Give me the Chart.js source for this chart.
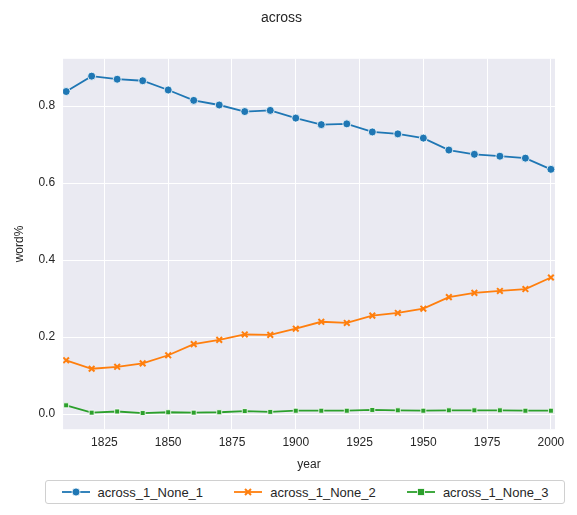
<!DOCTYPE html>
<html>
<head>
<meta charset="utf-8">
<script src="https://cdn.jsdelivr.net/npm/chart.js@4"></script>
<style>
  body { margin:0; background:#fff; font-family:Arial, "Liberation Sans", sans-serif; }
  #wrap { position:relative; width:577px; height:515px; }
  #legend { position:absolute; left:45px; top:480px; width:520px; height:24px; box-sizing:border-box;
            border:1px solid #d0d0d0; border-radius:3px; display:flex; align-items:center;
            justify-content:space-around; font-size:13px; color:#262626; }
  .item { display:flex; align-items:center; gap:8px; }
</style>
</head>
<body>
<div id="wrap">
  <canvas id="c" width="577" height="476"></canvas>
  <div id="legend"></div>
</div>
<script>
const years = [1810,1820,1830,1840,1850,1860,1870,1880,1890,1900,1910,1920,1930,1940,1950,1960,1970,1980,1990,2000];
const none1 = [0.838,0.878,0.870,0.866,0.842,0.815,0.803,0.786,0.789,0.769,0.752,0.754,0.733,0.728,0.717,0.686,0.675,0.670,0.665,0.636];
const none2 = [0.140,0.118,0.123,0.132,0.153,0.182,0.193,0.207,0.206,0.222,0.240,0.237,0.256,0.263,0.274,0.304,0.315,0.320,0.325,0.355];
const none3 = [0.023,0.004,0.007,0.003,0.005,0.004,0.005,0.008,0.006,0.009,0.009,0.009,0.011,0.010,0.009,0.010,0.010,0.010,0.009,0.009];
const xTicks = [1825,1850,1875,1900,1925,1950,1975,2000];
const yTicks = [0,0.2,0.4,0.6,0.8];

const series = [
  { label:'across_1_None_1', data:none1, color:'#1f77b4', style:'circle', r:4 },
  { label:'across_1_None_2', data:none2, color:'#ff7f0e', style:'crossRot', r:4 },
  { label:'across_1_None_3', data:none3, color:'#2ca02c', style:'rect', r:3.5 },
];

const bg = {
  id:'bg',
  beforeDraw(chart) {
    const a = chart.chartArea, ctx = chart.ctx;
    ctx.save(); ctx.fillStyle = '#eaeaf2';
    ctx.fillRect(a.left, a.top, a.right - a.left, a.bottom - a.top); ctx.restore();
  }
};

new Chart(document.getElementById('c'), {
  type:'line',
  data:{ datasets: series.map(s => ({
    label:s.label, data:years.map((y,i) => ({x:y, y:s.data[i]})),
    borderColor:s.color, backgroundColor:s.color, borderWidth:1.8,
    pointStyle:s.style, pointRadius:s.r, pointBorderColor: s.style==='crossRot' ? s.color : '#fff',
    pointBorderWidth: s.style==='crossRot' ? 2 : 0.8, tension:0
  })) },
  options:{
    responsive:false, animation:false,
    layout:{ padding:{ left:8, right:22, top:0, bottom:0 } },
    plugins:{
      legend:{ display:false },
      tooltip:{ enabled:false },
      title:{ display:true, text:'across', color:'#262626', font:{ size:14, weight:'normal' }, padding:{ top:10, bottom:32 } }
    },
    scales:{
      x:{ type:'linear', min:1808.8, max:2001.6,
          afterBuildTicks:ax => { ax.ticks = xTicks.map(v => ({value:v})); },
          grid:{ color:'#fff', lineWidth:1, drawTicks:false }, border:{ display:false },
          ticks:{ color:'#262626', font:{ size:12 }, padding:6, callback:v => String(v) },
          title:{ display:true, text:'year', color:'#262626', font:{ size:12 }, padding:{ top:2 } } },
      y:{ min:-0.039, max:0.923,
          afterBuildTicks:ax => { ax.ticks = yTicks.map(v => ({value:v})); },
          grid:{ color:'#fff', lineWidth:1, drawTicks:false }, border:{ display:false },
          ticks:{ color:'#262626', font:{ size:12 }, padding:8, callback:v => v.toFixed(1) },
          title:{ display:true, text:'word%', color:'#262626', font:{ size:12 }, padding:{ bottom:4 } } }
    }
  },
  plugins:[bg]
});

const leg = document.getElementById('legend');
const icons = {
  circle:c => `<line x1="0" y1="7" x2="28" y2="7" stroke="${c}" stroke-width="1.8"/><circle cx="14" cy="7" r="4" fill="${c}" stroke="#fff" stroke-width="0.8"/>`,
  crossRot:c => `<line x1="0" y1="7" x2="28" y2="7" stroke="${c}" stroke-width="1.8"/><path d="M11 4L17 10M17 4L11 10" stroke="${c}" stroke-width="2"/>`,
  rect:c => `<line x1="0" y1="7" x2="28" y2="7" stroke="${c}" stroke-width="1.8"/><rect x="10.5" y="3.5" width="7" height="7" fill="${c}" stroke="#fff" stroke-width="0.8"/>`
};
series.forEach(s => {
  leg.innerHTML += `<div class="item"><svg width="28" height="14">${icons[s.style](s.color)}</svg><span>${s.label}</span></div>`;
});
</script>
</body>
</html>
